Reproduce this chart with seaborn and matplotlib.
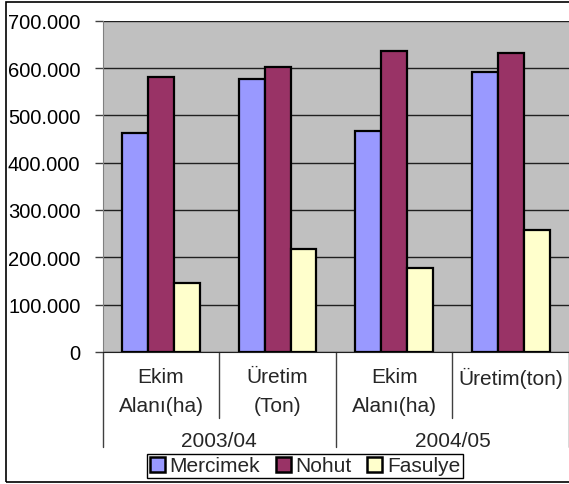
import matplotlib
matplotlib.use("Agg")
import matplotlib.pyplot as plt
import matplotlib.transforms as mtransforms
from matplotlib.patches import Rectangle
from matplotlib.ticker import FuncFormatter
import pandas as pd
import seaborn as sns

# data
kategoriler = ["Ekim\nAlanı(ha)", "Üretim\n(Ton)", "Ekim\nAlanı(ha)", "Üretim(ton)"]
donemler = ["2003/04", "2004/05"]
mercimek = [462000, 577000, 467000, 591000]
nohut = [580000, 602000, 635000, 631000]
fasulye = [145000, 217000, 178000, 258000]
urunler = ["Mercimek", "Nohut", "Fasulye"]
renkler = ["#9999FF", "#993366", "#FFFFCC"]

rows = []
for i in range(len(kategoriler)):
    for urun, vals in zip(urunler, [mercimek, nohut, fasulye]):
        rows.append({"kat": i, "urun": urun, "deger": vals[i]})
df = pd.DataFrame(rows)

sns.set_style("white")
plt.rcParams["font.family"] = ["Liberation Sans", "DejaVu Sans"]
FS = 15

fig = plt.figure(figsize=(5.69, 4.85), dpi=100)
ax = fig.add_axes([0.1805, 0.2722, 0.8195, 0.6831])
ax.set_facecolor("#C0C0C0")

sns.barplot(data=df, x="kat", y="deger", hue="urun", hue_order=urunler,
            palette=renkler, width=0.667, gap=0, edgecolor="black",
            linewidth=1.6, saturation=1, ax=ax, zorder=3)

ax.set_ylim(0, 700000)
ax.set_xlim(-0.5, 3.5)
ax.set_yticks(range(0, 700001, 100000))
ax.yaxis.set_major_formatter(FuncFormatter(lambda v, p: f"{int(v):,}".replace(",", ".")))
ax.yaxis.grid(True, color="#202020", linewidth=1.0, zorder=0)
ax.set_axisbelow(True)
ax.set_xticks([])
ax.set_xlabel("")
ax.set_ylabel("")
ax.tick_params(axis="y", left=True, length=6, width=1, color="#404040",
               pad=10, labelsize=14.5, labelcolor="black")
for s in ["top", "right"]:
    ax.spines[s].set_visible(False)
ax.spines["left"].set_color("#808080")
ax.spines["bottom"].set_color("#202020")

# multi-level category axis
ax_h = 331.3
blend = mtransforms.blended_transform_factory(ax.transData, ax.transAxes)
for x in [0.5, 2.5]:
    ax.plot([x, x], [0, -66 / ax_h], transform=blend, color="#404040",
            lw=1, clip_on=False)
for x in [-0.5, 1.5, 3.5]:
    ax.plot([x, x], [0, -95 / ax_h], transform=blend, color="#404040",
            lw=1, clip_on=False)
for i, lab in enumerate(kategoriler):
    for j, line in enumerate(lab.split("\n")):
        ax.text(i, -(25 + 29 * j) / ax_h, line, transform=blend,
                ha="center", va="center", fontsize=FS)
for g, d in enumerate(donemler):
    ax.text(2 * g + 0.5, -89 / ax_h, d, transform=blend,
            ha="center", va="center", fontsize=FS)

handles, labels = ax.get_legend_handles_labels()
ax.get_legend().remove()
leg = fig.legend(handles, labels, loc="center", bbox_to_anchor=(305 / 569, 1 - 467 / 485),
                 ncol=3, fontsize=FS, frameon=True, fancybox=False,
                 edgecolor="black", framealpha=1, borderpad=0.12,
                 handlelength=0.72, handleheight=0.72, handletextpad=0.22,
                 columnspacing=0.75, borderaxespad=0)
leg.get_frame().set_linewidth(1)
for h in leg.legend_handles:
    h.set_linewidth(1.8)
    h.set_edgecolor("black")

# outer chart border
fig.add_artist(Rectangle((6 / 569, 2 / 485), 1.05, 480 / 485,
                         transform=fig.transFigure, fill=False,
                         edgecolor="black", linewidth=1.2))

fig.savefig("out.png", dpi=100)
